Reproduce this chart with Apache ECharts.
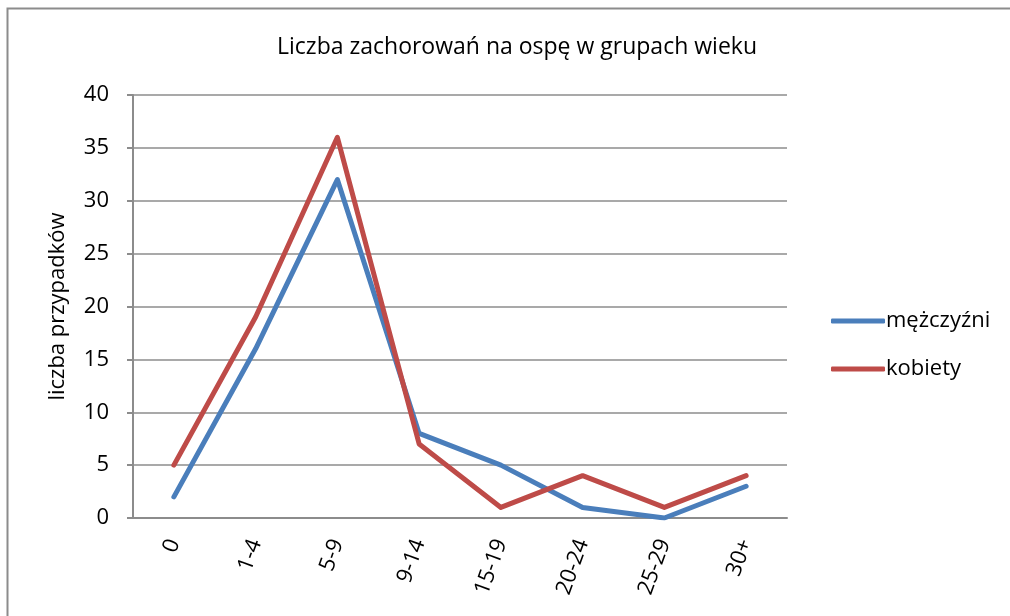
<!DOCTYPE html>
<html>
<head>
<meta charset="utf-8">
<script src="https://cdn.jsdelivr.net/npm/echarts@6/dist/echarts.min.js"></script>
<style>
  html, body { margin: 0; padding: 0; background: #fff; }
  #chart { width: 1010px; height: 616px; }
</style>
</head>
<body>
<div id="chart"></div>
<script>
// grupy wieku i liczba przypadków
const categories = ['0', '1-4', '5-9', '9-14', '15-19', '20-24', '25-29', '30+'];
const men = [2, 16, 32, 8, 5, 1, 0, 3];
const women = [5, 19, 36, 7, 1, 4, 1, 4];
const yTicks = { min: 0, max: 40, interval: 5 };

const font = '"Open Sans", sans-serif';

let chart = echarts.init(document.getElementById('chart'));
let option = {
    animation: false,
    title: {
        text: 'Liczba zachorowań na ospę w grupach wieku',
        left: 512,
        textAlign: 'center',
        top: 31,
        textStyle: {
            fontFamily: font,
            fontSize: 23,
            fontWeight: 'normal',
            color: '#000'
        }
    },
    graphic: [{
        // ramka obszaru wykresu
        type: 'rect',
        shape: { x: 7.5, y: 8.5, width: 1100, height: 700 },
        style: { fill: 'none', stroke: '#8c8c8c', lineWidth: 2 },
        silent: true
    }],
    legend: {
        orient: 'vertical',
        left: 826,
        top: 305,
        icon: 'roundRect',
        itemWidth: 54,
        itemHeight: 5,
        itemGap: 26,
        textStyle: { fontFamily: font, fontSize: 22, color: '#000', padding: [0, 0, 0, -4] },
        data: ['mężczyźni', 'kobiety']
    },
    grid: {
        left: 133,
        right: 223,
        top: 95,
        height: 423,
        containLabel: false
    },
    xAxis: {
        type: 'category',
        data: categories,
        boundaryGap: true,
        axisLine: { lineStyle: { color: '#8c8c8c', width: 2 } },
        axisTick: { show: false },
        axisLabel: {
            rotate: 70,
            margin: 22,
            fontFamily: font,
            fontSize: 22,
            color: '#000'
        }
    },
    yAxis: {
        type: 'value',
        min: yTicks.min,
        max: yTicks.max,
        interval: yTicks.interval,
        name: 'liczba przypadków',
        nameLocation: 'middle',
        nameGap: 64,
        nameRotate: 90,
        nameTextStyle: { fontFamily: font, fontSize: 22, color: '#000' },
        axisLine: { show: true, lineStyle: { color: '#8c8c8c', width: 2 } },
        axisTick: { show: true, length: 6, lineStyle: { color: '#8c8c8c', width: 2 } },
        splitLine: { lineStyle: { color: '#8c8c8c', width: 1.5 } },
        axisLabel: {
            margin: 24,
            fontFamily: font,
            fontSize: 22,
            color: '#000'
        }
    },
    series: [
        {
            name: 'mężczyźni',
            type: 'line',
            data: men,
            symbol: 'none',
            itemStyle: { color: '#4a7ebb' },
            lineStyle: { color: '#4a7ebb', width: 5, cap: 'round', join: 'round' }
        },
        {
            name: 'kobiety',
            type: 'line',
            data: women,
            symbol: 'none',
            itemStyle: { color: '#be4b48' },
            lineStyle: { color: '#be4b48', width: 5, cap: 'round', join: 'round' }
        }
    ]
};
chart.setOption(option);
</script>
</body>
</html>
